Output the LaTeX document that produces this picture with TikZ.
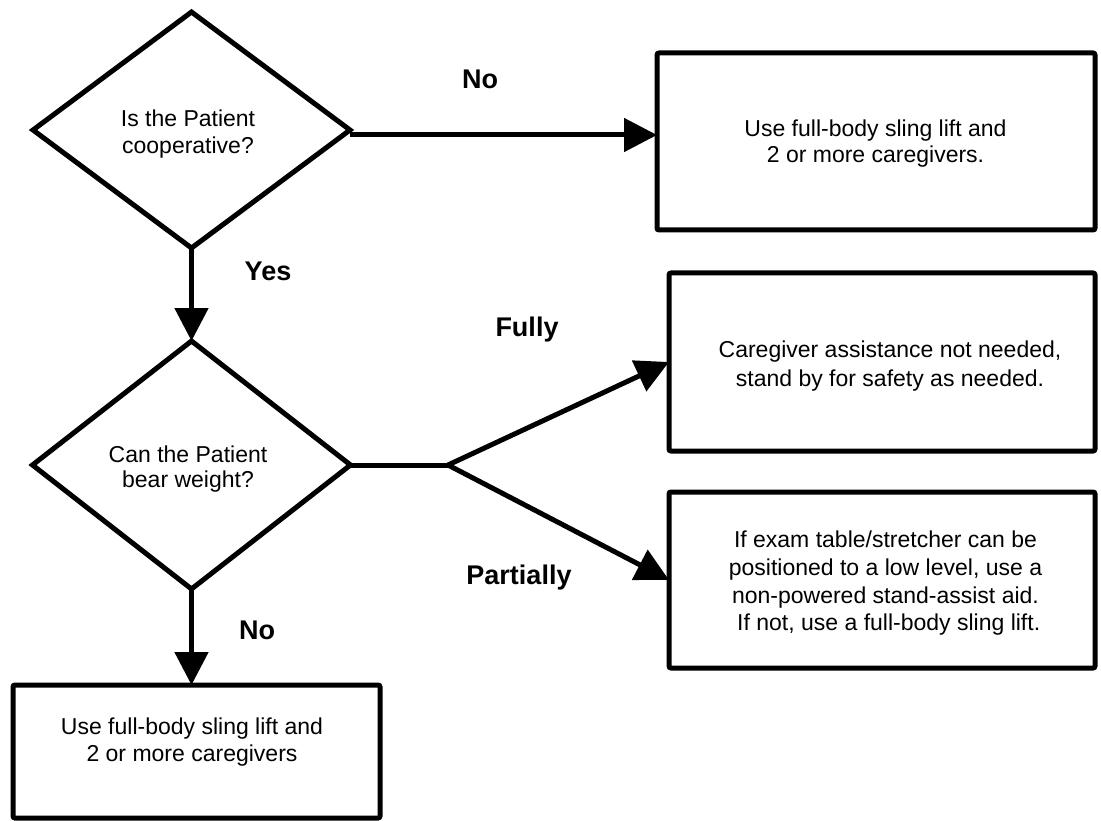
\documentclass[tikz,border=0pt]{standalone}
\usepackage{fontspec}
\setmainfont{Liberation Sans}
\usetikzlibrary{shapes.geometric,arrows.meta}
\begin{document}
\begin{tikzpicture}[x=1pt,y=-1pt,
  every node/.style={inner sep=0pt, outer sep=0pt},
  dia/.style={draw, diamond, line width=5pt, line join=miter},
  box/.style={draw, rectangle, line width=5pt, rounded corners=2pt},
  txt/.style={align=center, font=\fontsize{23}{27}\selectfont},
  lbl/.style={font=\bfseries\fontsize{27}{30}\selectfont},
  conn/.style={line width=5pt},
  arr/.style={conn, -{Triangle[length=33pt,width=33pt]}}
]
\useasboundingbox[fill=white] (0,0) rectangle (1101,821);

% decisions
\node[dia, minimum width=317pt, minimum height=236pt] (d1) at (191.5,130) {};
\node[txt] (t1) at (188,134.5) {Is the Patient\\cooperative?};
\node[dia, minimum width=318pt, minimum height=248pt] (d2) at (191.5,465) {};
\node[txt] (t2) at (188,469.5) {Can the Patient\\[-2pt]bear weight?};

% outcome boxes
\node[box, minimum width=438pt, minimum height=177pt] (b1) at (876,141.5) {};
\node[txt] (t3) at (875.5,144) {Use full-body sling lift and\\[-1pt]2 or more caregivers.};
\node[box, minimum width=426pt, minimum height=178pt] (b2) at (882,362) {};
\node[txt] (t4) at (890,366.5) {Caregiver assistance not needed,\\[2pt]stand by for safety as needed.};
\node[box, minimum width=426pt, minimum height=176pt] (b3) at (882,580) {};
\node[txt] (t5) at (885.5,583.5) {If exam table/stretcher can be\\[0.7pt]positioned to a low level, use a\\[0.7pt]non-powered stand-assist aid.\\[0.7pt]\ If not, use a full-body sling lift.};
\node[box, minimum width=367pt, minimum height=133pt] (b4) at (196.5,751.5) {};
\node[txt] (t6) at (192,742.5) {Use full-body sling lift and\\2 or more caregivers};

% junction
\coordinate (j) at (448,465);

% connectors
\draw[arr] ([yshift=-5pt]d1.east) -- ([yshift=-5pt]d1.east -| b1.west);
\draw[arr] (d1.south) -- (d2.north);
\draw[arr] (d2.south) -- (d2.south |- b4.north);
\draw[conn] (d2.east) -- (j);
\draw[arr] (j) -- (b2.west);
\draw[arr] (j) -- (b3.west);

% labels
\node[lbl] (lno1) at (480,79) {No};
\node[lbl] (lyes) at (268,271) {Yes};
\node[lbl] (lfully) at (527,330) {Fully};
\node[lbl] (lpart) at (519,578) {Partially};
\node[lbl] (lno2) at (257,630) {No};
\end{tikzpicture}
\end{document}
